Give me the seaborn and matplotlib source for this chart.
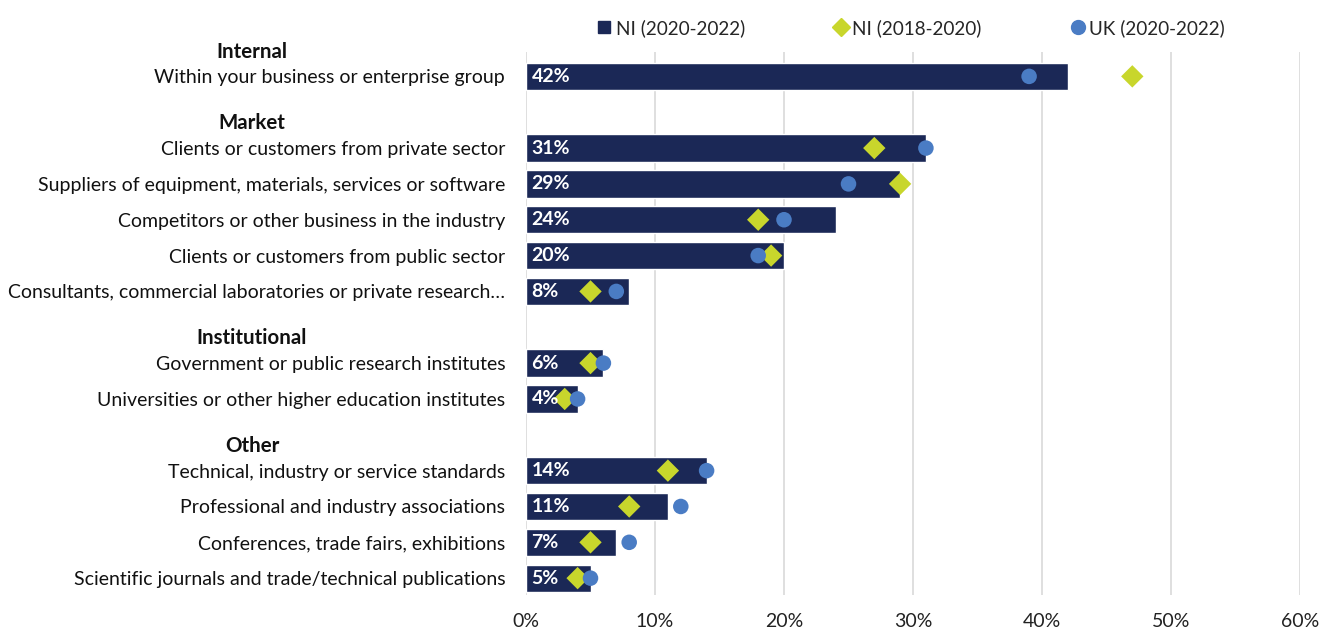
import matplotlib
matplotlib.use("Agg")
import matplotlib.pyplot as plt
import matplotlib.transforms as mtransforms
from matplotlib.lines import Line2D
import numpy as np
import pandas as pd
import seaborn as sns

# Sources of information for innovation, grouped by type
groups = ["Internal", "Market", "Institutional", "Other"]
sources = [
    ["Within your business or enterprise group"],
    ["Clients or customers from private sector",
     "Suppliers of equipment, materials, services or software",
     "Competitors or other business in the industry",
     "Clients or customers from public sector",
     "Consultants, commercial laboratories or private research\u2026"],
    ["Government or public research institutes",
     "Universities or other higher education institutes"],
    ["Technical, industry or service standards",
     "Professional and industry associations",
     "Conferences, trade fairs, exhibitions",
     "Scientific journals and trade/technical publications"],
]
ni_2020_2022 = [42, 31, 29, 24, 20, 8, 6, 4, 14, 11, 7, 5]
ni_2018_2020 = [47, 27, 29, 18, 19, 5, 5, 3, 11, 8, 5, 4]
uk_2020_2022 = [39, 31, 25, 20, 18, 7, 6, 4, 14, 12, 8, 5]
x_ticks = [0, 10, 20, 30, 40, 50, 60]

NAVY = "#1B2856"
LIME = "#C8D62C"
BLUE = "#4A7CC4"
GRID = "#D9D9D9"

sns.set_theme(style="white")
plt.rcParams["font.family"] = ["Lato", "DejaVu Sans"]
FS = 14

# Row slots: one slot for each group heading followed by its items
header_pos, item_pos, item_labels = [], [], []
slot = 0
for g, items in zip(groups, sources):
    header_pos.append(slot)
    slot += 1
    for it in items:
        item_pos.append(slot)
        item_labels.append(it)
        slot += 1

df = pd.DataFrame({
    "pos": item_pos,
    "label": item_labels,
    "NI (2020-2022)": ni_2020_2022,
    "NI (2018-2020)": ni_2018_2020,
    "UK (2020-2022)": uk_2020_2022,
})

fig = plt.figure(figsize=(13.2, 6.3), dpi=100)
ax = fig.add_axes([526 / 1320, 1 - 595 / 630, (1300 - 526) / 1320, (595 - 52) / 630])

sns.barplot(data=df, x="NI (2020-2022)", y="pos", orient="h", native_scale=True,
            color=NAVY, saturation=1, width=0.76, ax=ax, zorder=2)
sns.scatterplot(data=df, x="NI (2018-2020)", y="pos", marker="D", s=130,
                color=LIME, edgecolor="none", linewidth=0, ax=ax, zorder=3)
sns.scatterplot(data=df, x="UK (2020-2022)", y="pos", marker="o", s=125,
                color=BLUE, edgecolor="none", linewidth=0, ax=ax, zorder=4)

ax.set_xlim(0, 60)
ax.set_ylim(15.47, 0.32)
ax.set_xticks(x_ticks)
ax.set_xticklabels([f"{t}%" for t in x_ticks], fontsize=FS, color="#222222")
ax.set_yticks(item_pos)
ax.set_yticklabels(item_labels, fontsize=FS, color="#111111")
ax.tick_params(axis="y", length=0, pad=15)
ax.tick_params(axis="x", length=0, pad=13)
ax.set_xlabel("")
ax.set_ylabel("")
for s in ax.spines.values():
    s.set_visible(False)
ax.grid(axis="x", color=GRID, linewidth=1.2, zorder=0)
ax.grid(axis="y", visible=False)
ax.set_axisbelow(True)

# Value labels inside the bars
for p, v in zip(item_pos, ni_2020_2022):
    ax.annotate(f"{v}%", xy=(0, p), xytext=(4, 0), textcoords="offset points",
                ha="left", va="center", color="white", fontsize=FS,
                fontweight="bold", zorder=5)

# Group headings
trans = mtransforms.blended_transform_factory(fig.transFigure, ax.transData)
for g, p in zip(groups, header_pos):
    ax.text(252 / 1320, p + 0.31, g, transform=trans, ha="center", va="center",
            fontsize=14.8, fontweight="bold", color="#111111", clip_on=False)

handles = [
    Line2D([], [], marker="s", linestyle="none", color=NAVY, markersize=9),
    Line2D([], [], marker="D", linestyle="none", color=LIME, markersize=9),
    Line2D([], [], marker="o", linestyle="none", color=BLUE, markersize=10),
]
fig.legend(handles, ["NI (2020-2022)", "NI (2018-2020)", "UK (2020-2022)"],
           loc="center", bbox_to_anchor=(910 / 1320, 1 - 28 / 630), ncol=3,
           frameon=False, fontsize=13.6, handletextpad=0.1, columnspacing=4.6,
           handlelength=1.0)

fig.savefig("out.png", dpi=100)
